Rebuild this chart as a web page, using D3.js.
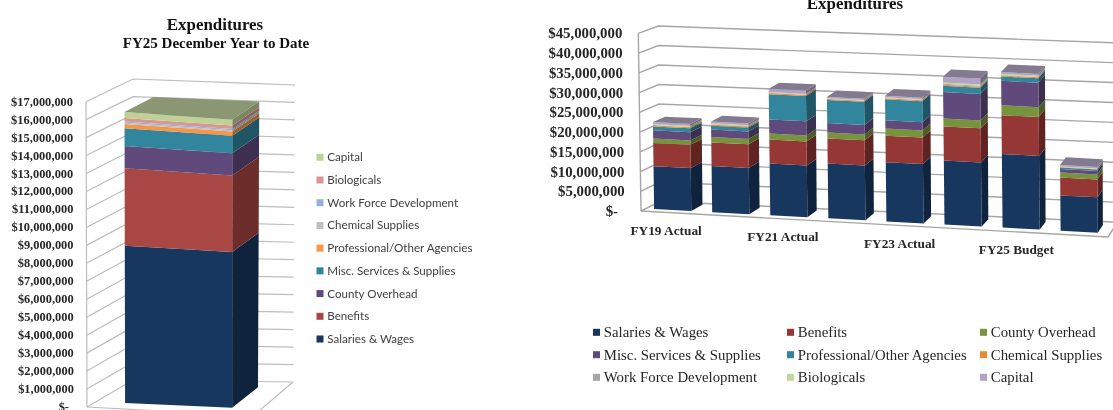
<!DOCTYPE html>
<html>
<head>
<meta charset="utf-8">
<script src="https://cdn.jsdelivr.net/npm/d3@7/dist/d3.min.js"></script>
<style>
html,body{margin:0;padding:0;background:#fff;overflow:hidden}
svg{display:block;filter:blur(0.45px)}
.serif{font-family:"Liberation Serif",serif}
.sans{font-family:Lato,"Open Sans",sans-serif}
</style>
</head>
<body>
<svg id="c" width="1113" height="410" viewBox="0 0 1113 410"></svg>
<script>
// ---------- data ----------
const seriesNames = ["Salaries & Wages","Benefits","County Overhead","Misc. Services & Supplies","Professional/Other Agencies","Chemical Supplies","Work Force Development","Biologicals","Capital"];

// left chart: FY25 December year to date (one stacked column)
const ytdCategory = ["FY25 December YTD"];
const ytdValues = [8800000,4330000,1250000,990000,240000,70000,70000,200000,330000];
const ytdTicks = d3.range(0,17000001,1000000);
const ytdLegendOrder = ["Capital","Biologicals","Work Force Development","Chemical Supplies","Professional/Other Agencies","Misc. Services & Supplies","County Overhead","Benefits","Salaries & Wages"];

// right chart: fiscal years
const years = ["FY19 Actual","FY20 Actual","FY21 Actual","FY22 Actual","FY23 Actual","FY24 Actual","FY25 Budget","FY25 YTD"];
const yearLabels = ["FY19 Actual","FY21 Actual","FY23 Actual","FY25 Budget"];
const salaries = [10.9,11.7,13.1,13.9,15.0,16.2,18.6,8.9];
const benefits = [5.9,6.0,6.1,6.35,6.7,8.6,9.8,4.5];
const county   = [1.1,1.35,1.5,1.5,1.8,2.0,2.5,1.3];
const misc     = [2.1,1.9,3.6,2.4,2.1,6.7,6.2,0.85];
const prof     = [1.0,0.95,6.4,5.85,5.3,1.6,1.1,0.4];
const chem     = [0.25,0.25,0.3,0.25,0.25,0.25,0.25,0.1];
const workforce= [0.1,0.1,0.05,0.05,0.05,0.25,0.1,0.05];
const biolog   = [0.3,0.3,0.2,0.15,0.2,0.3,0.3,0.1];
const capital  = [0.45,0.45,0.85,0.3,0.4,1.5,0.45,0.35];
const yearTicks = d3.range(0,45000001,5000000);

// ---------- colours ----------
const leftColors = {"Salaries & Wages":"#17375E","Benefits":"#A84743","County Overhead":"#604A7B","Misc. Services & Supplies":"#31859C","Professional/Other Agencies":"#F79646","Chemical Supplies":"#BFBFBF","Work Force Development":"#95B3D7","Biologicals":"#D99694","Capital":"#BFD296"};
const rightColors = {"Salaries & Wages":"#17375E","Benefits":"#953735","County Overhead":"#77933C","Misc. Services & Supplies":"#604A7B","Professional/Other Agencies":"#31859C","Chemical Supplies":"#E98A33","Work Force Development":"#A6A6A6","Biologicals":"#C3D69B","Capital":"#B3A2C7"};

const svg = d3.select("#c");
const money = v => v===0 ? "$-" : "$"+d3.format(",")(v);
const L = (a,b,t)=>a+(b-a)*t;

function makeProjector(c){
  // trilinear map of the drawn plot box: u across, t up (0..1), w into the page
  return (u,t,w)=>{
    const p = i=>{
      const fb=L(c.flb[i],c.frb[i],u), bb=L(c.blb[i],c.brb[i],u),
            ft=L(c.flt[i],c.frt[i],u), bt=L(c.blt[i],c.brt[i],u);
      return L(L(fb,bb,w),L(ft,bt,w),t);
    };
    return [p(0),p(1)];
  };
}

function draw3D(cfg){
  const g = svg.append("g");
  const proj = makeProjector(cfg.box);
  const y = d3.scaleLinear().domain(cfg.domain).range([0,1]);
  const x = d3.scaleBand().domain(cfg.categories).range(cfg.uRange).paddingInner(cfg.pi).paddingOuter(cfg.po);
  const P = (u,v,w)=>proj(u,y(v),w);
  const path = pts=>"M"+pts.map(p=>p.join(",")).join("L")+"Z";
  const line = d3.line();
  const backD = d3.scaleLinear().domain([0,1]).range(cfg.d1); // column depth narrows toward the right

  // walls and floor
  const grid = g.append("g").attr("fill","none").attr("stroke",cfg.gridColor).attr("stroke-width",cfg.gridWidth);
  grid.selectAll(".g").data(cfg.ticks).join("path")
    .attr("d",v=>line([P(0,v,0),P(0,v,1),P(1,v,1)]));
  grid.append("path").attr("d",line([P(0,cfg.domain[0],0),P(0,cfg.domain[1],0)]));
  grid.append("path").attr("d",line([P(0,0,0),P(1,0,0),P(1,0,1)]));

  // stacked columns
  const stack = d3.stack().keys(d3.range(seriesNames.length)).value((d,k)=>d.values[k]);
  const rows = cfg.categories.map((c,i)=>({cat:c,values:cfg.values.map(s=>s[i])}));
  const layers = stack(rows);
  layers.forEach((layer,k)=>{
    const col = cfg.colors[seriesNames[k]];
    const seg = g.append("g").selectAll("g").data(layer).join("g");
    const u0 = d=>x(d.data.cat), u1 = d=>x(d.data.cat)+x.bandwidth();
    seg.append("path").attr("fill",d3.interpolateRgb(col,"#000")(0.36))
      .attr("d",d=>{const b=backD(u1(d));return path([P(u1(d),d[0],cfg.d0),P(u1(d),d[0],b),P(u1(d),d[1],b),P(u1(d),d[1],cfg.d0)]);});
    seg.append("path").attr("fill",col)
      .attr("d",d=>path([P(u0(d),d[0],cfg.d0),P(u1(d),d[0],cfg.d0),P(u1(d),d[1],cfg.d0),P(u0(d),d[1],cfg.d0)]));
    if(k===seriesNames.length-1){
      seg.append("path").attr("fill",d3.interpolateRgb(col,"#3d3d3d")(0.4))
        .attr("d",d=>path([P(u0(d),d[1],cfg.d0),P(u1(d),d[1],cfg.d0),P(u1(d),d[1],backD(u1(d))),P(u0(d),d[1],backD(u0(d)))]));
    }
  });

  // value axis: real d3 axis, ticks then follow the slanted front edge of the wall
  const axisG = g.append("g").attr("class","serif")
    .call(d3.axisLeft(y).tickValues(cfg.ticks).tickFormat(money).tickSize(0));
  axisG.select(".domain").remove();
  axisG.selectAll(".tick").attr("transform",v=>{
      const p=P(0,v,0); return `translate(${p[0]-cfg.labelGap-(v===0?cfg.zeroInset:0)},${p[1]+cfg.labelDy})`;
    });
  axisG.selectAll("text").attr("x",0).attr("dy",0).attr("text-anchor","end")
    .attr("font-size",cfg.labelSize).attr("font-weight","bold").attr("fill","#262626").attr("font-family",'"Liberation Serif",serif');
  return {P,x};
}

// ---------- left chart ----------
draw3D({
  box:{flb:[87,407],frb:[253,416],blb:[133,380],brb:[293,382],flt:[86,101.7],frt:[253,115],blt:[133,79],brt:[295,85]},
  domain:[0,17000000],ticks:ytdTicks,categories:ytdCategory,
  values:ytdValues.map(v=>[v]),colors:leftColors,
  uRange:[0,1],pi:0,po:0.27,d0:0.2,d1:[0.83,0.83],
  gridColor:"#BDBDBD",gridWidth:1.2,labelGap:13,labelDy:4,zeroInset:5,labelSize:12.4
});
svg.append("text").attr("class","serif").attr("x",215).attr("y",30).attr("text-anchor","middle")
  .attr("font-size",16.9).attr("font-weight","bold").attr("fill","#111").text("Expenditures");
svg.append("text").attr("class","serif").attr("x",216).attr("y",48).attr("text-anchor","middle")
  .attr("font-size",15).attr("font-weight","bold").attr("fill","#111").text("FY25 December Year to Date");

const leftLegendY = d3.scalePoint().domain(ytdLegendOrder).range([157.3,339]);
const ll = svg.append("g").selectAll("g").data(ytdLegendOrder).join("g")
  .attr("transform",d=>`translate(316.5,${leftLegendY(d)})`);
ll.append("rect").attr("x",0).attr("y",-3.5).attr("width",7).attr("height",7).attr("fill",d=>leftColors[d]);
ll.append("text").attr("class","sans").attr("x",10.8).attr("y",4).attr("font-size",11.6).attr("fill","#404040").text(d=>d);

// ---------- right chart ----------
const scaleM = a=>a.map(v=>v*1e6);
const right = draw3D({
  box:{flb:[641,211],frb:[1108,237],blb:[660,201.5],brb:[1117.4,222.2],flt:[638.3,33.3],frt:[1106,59],blt:[658.3,26],brt:[1117.4,42.9]},
  domain:[0,45000000],ticks:yearTicks,categories:years,
  values:[salaries,benefits,county,misc,prof,chem,workforce,biolog,capital].map(scaleM),colors:rightColors,
  uRange:[0,0.991],pi:0.36,po:0.144,d0:0.25,d1:[0.88,0.77],
  gridColor:"#A6A6A6",gridWidth:1.4,labelGap:16,labelDy:5,zeroInset:7,labelSize:14.8
});
svg.append("text").attr("class","serif").attr("x",855).attr("y",9).attr("text-anchor","middle")
  .attr("font-size",16.9).attr("font-weight","bold").attr("fill","#111").text("Expenditures");

// category labels sit under the sloped floor edge
svg.append("g").selectAll("text").data(yearLabels).join("text")
  .attr("class","serif").attr("text-anchor","middle").attr("font-size",13.3).attr("font-weight","bold").attr("fill","#262626")
  .attr("x",d=>right.P(right.x(d)+right.x.bandwidth()/2,0,0)[0]-2)
  .attr("y",d=>right.P(right.x(d)+right.x.bandwidth()/2,0,0)[1]+22)
  .text(d=>d);

const rlCols = d3.scaleOrdinal().domain([0,1,2]).range([593,787,980]);
const rlRows = d3.scaleOrdinal().domain([0,1,2]).range([332.3,354.7,377.3]);
const rl = svg.append("g").selectAll("g").data(seriesNames).join("g")
  .attr("transform",(d,i)=>`translate(${rlCols(i%3)},${rlRows(Math.floor(i/3))})`);
rl.append("rect").attr("x",0).attr("y",-3.5).attr("width",7).attr("height",7).attr("fill",d=>rightColors[d]);
rl.append("text").attr("class","serif").attr("x",10.8).attr("y",5).attr("font-size",14.8).attr("fill","#262626").text(d=>d);
</script>
</body>
</html>
